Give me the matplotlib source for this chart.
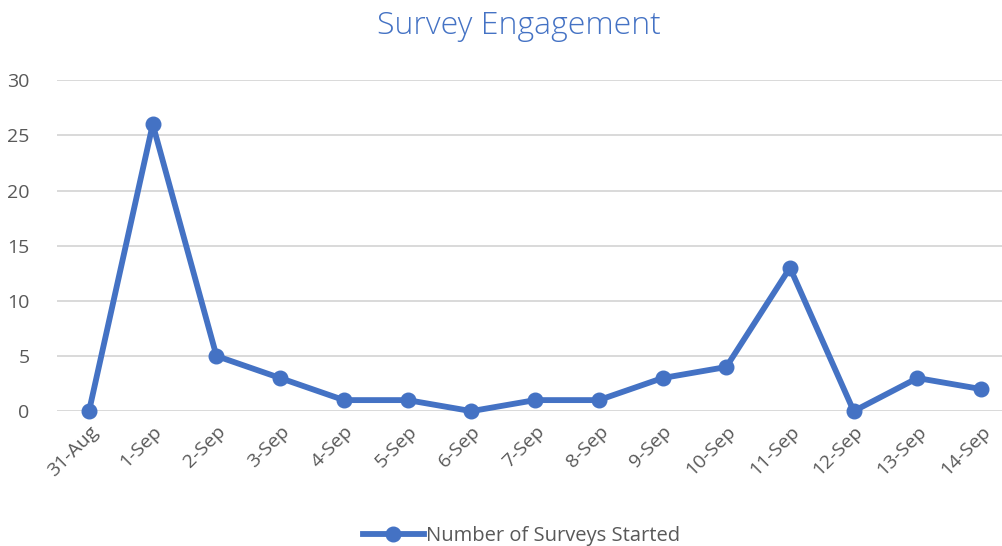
import matplotlib.pyplot as plt

dates = ["31-Aug", "1-Sep", "2-Sep", "3-Sep", "4-Sep", "5-Sep", "6-Sep", "7-Sep",
         "8-Sep", "9-Sep", "10-Sep", "11-Sep", "12-Sep", "13-Sep", "14-Sep"]
surveys_started = [0, 26, 5, 3, 1, 1, 0, 1, 1, 3, 4, 13, 0, 3, 2]
y_ticks = [0, 5, 10, 15, 20, 25, 30]

blue = "#4472C4"
gray = "#595959"

plt.rcParams['font.family'] = ['Open Sans', 'DejaVu Sans']

fig = plt.figure(figsize=(10.03, 5.46), dpi=100)
ax = fig.add_axes([0.057, 0.247, 0.953, 0.606])

x = list(range(len(dates)))
ax.plot(x, surveys_started, color=blue, linewidth=4.2, marker='o', markersize=10.5,
        label="Number of Surveys Started", solid_joinstyle='round', clip_on=False)

ax.set_xlim(-0.5, len(dates) - 0.5)
ax.set_ylim(0, 30)
ax.set_yticks(y_ticks)
ax.set_xticks(x)
ax.set_xticklabels(dates, rotation=45, ha='right', rotation_mode='anchor')
ax.tick_params(axis='both', length=0, labelsize=14, colors=gray)
ax.tick_params(axis='x', pad=8)
ax.tick_params(axis='y', pad=20)

ax.grid(axis='y', color='#D9D9D9', linewidth=1.4)
ax.set_axisbelow(True)
for s in ax.spines.values():
    s.set_visible(False)

fig.text(0.517, 0.952, "Survey Engagement", color=blue, fontsize=23, fontweight='light',
         ha='center', va='center')

fig.legend(loc='center', bbox_to_anchor=(0.52, 0.018), frameon=False, fontsize=14.5,
           labelcolor=gray, handlelength=3.0, handletextpad=0.1)

fig.savefig("out.png", dpi=100)
